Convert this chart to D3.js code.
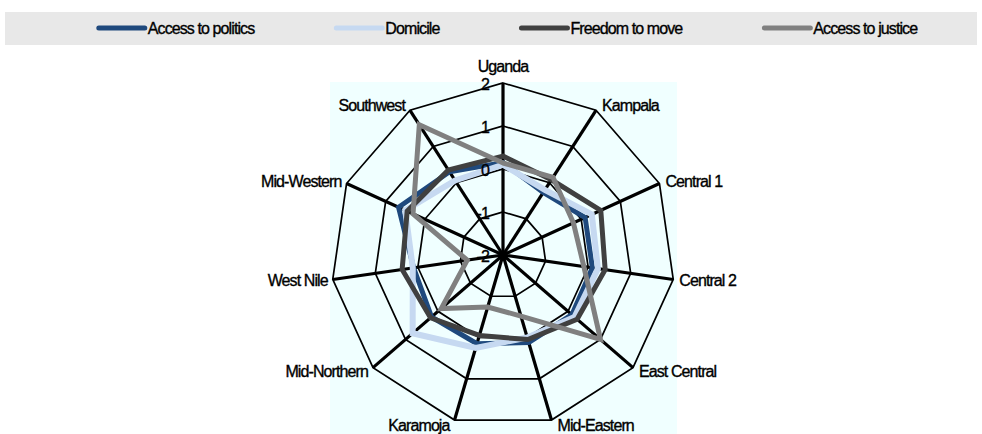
<!DOCTYPE html>
<html>
<head>
<meta charset="utf-8">
<script src="https://cdn.jsdelivr.net/npm/d3@7"></script>
<style>
  body { margin: 0; background: #fff; }
  text { font-family: "Liberation Sans", Arial, sans-serif; fill: #000; stroke: #000; stroke-width: 0.35px; letter-spacing: -0.9px; }
</style>
</head>
<body>
<div id="chart"></div>
<script>
var REGIONS = ['Uganda', 'Kampala', 'Central 1', 'Central 2', 'East Central', 'Mid-Eastern',
  'Karamoja', 'Mid-Northern', 'West Nile', 'Mid-Western', 'Southwest'];

var TICKS = [-2, -1, 0, 1, 2];

var SERIES = ['Access to politics', 'Domicile', 'Freedom to move', 'Access to justice'];
var COLORS = ['#1f497d', '#c6d9f1', '#404040', '#808080'];

var POLITICS = [0.15, -0.27, 0.1, 0.1, 0.12, 0.12, 0.15, 0.2, 0.1, 0.67, 0.3];
var DOMICILE = [0.1, -0.2, 0.27, 0.23, 0.2, 0.0, 0.25, 0.78, 0.12, 0.5, 0.06];
var FREEDOM = [0.3, 0.08, 0.5, 0.4, 0.28, 0.05, -0.05, 0.23, 0.37, 0.45, 0.35];
var JUSTICE = [0.14, 0.15, -0.2, -0.1, 1.0, -0.52, -0.74, -0.1, -1.16, 0.3, 1.6];

var VALUES = [POLITICS, DOMICILE, FREEDOM, JUSTICE];

var width = 982, height = 434;
var cx = 503, cy = 255, R = 172;

var svg = d3.select('#chart')
  .append('svg')
    .attr('width', width)
    .attr('height', height);

// legend band
svg.append('rect')
  .attr('x', 5).attr('y', 12)
  .attr('width', 972).attr('height', 33)
  .attr('fill', '#e8e8e8');

// plot area
svg.append('rect')
  .attr('x', cx - R - 1).attr('y', cy - R - 1)
  .attr('width', 2 * R + 3).attr('height', height - (cy - R - 1))
  .attr('fill', '#f0ffff');

var r = d3.scaleLinear().domain([-2, 2]).range([0, R]);
var angle = d3.scalePoint().domain(d3.range(REGIONS.length + 1)).range([0, 2 * Math.PI]);

function pt(i, v) {
  var a = angle(i);
  return [cx + r(v) * Math.sin(a), cy - r(v) * Math.cos(a)];
}

var g = svg.append('g');

// rings
TICKS.slice(1).forEach(function(t) {
  g.append('path')
    .attr('d', d3.line()(REGIONS.map(function(d, i) { return pt(i, t); })) + 'Z')
    .attr('fill', 'none')
    .attr('stroke', '#000')
    .attr('stroke-width', 1.7);
});

// spokes
REGIONS.forEach(function(d, i) {
  var p = pt(i, 2);
  g.append('line')
    .attr('x1', cx).attr('y1', cy)
    .attr('x2', p[0]).attr('y2', p[1])
    .attr('stroke', '#000')
    .attr('stroke-width', 3.2);
});

// series lines
var line = d3.line()
  .x(function(d, i) { return pt(i, d)[0]; })
  .y(function(d, i) { return pt(i, d)[1]; })
  .curve(d3.curveLinearClosed);

VALUES.forEach(function(vals, s) {
  svg.append('path')
    .datum(vals)
    .attr('d', line)
    .attr('fill', 'none')
    .attr('stroke', COLORS[s])
    .attr('stroke-width', s == 1 ? 6 : 5)
    .attr('stroke-linejoin', 'miter');
});

// tick labels
TICKS.forEach(function(t) {
  svg.append('text')
    .attr('x', cx - 14)
    .attr('y', cy - r(t) + 1)
    .attr('dy', '0.35em')
    .attr('text-anchor', 'end')
    .style('font-size', '16px')
    .text(t);
});

// category labels
REGIONS.forEach(function(d, i) {
  var a = angle(i), s = Math.sin(a), c = Math.cos(a);
  var p = pt(i, 2);
  var anchor = Math.abs(s) < 0.1 ? 'middle' : (s > 0 ? 'start' : 'end');
  var x = p[0] + (anchor == 'middle' ? 0 : (s > 0 ? 6 : -5));
  var y = anchor == 'middle' ? p[1] - 17 : p[1] - c * 6;
  svg.append('text')
    .attr('x', x).attr('y', y)
    .attr('dy', '0.35em')
    .attr('text-anchor', anchor)
    .style('font-size', '16px')
    .text(d);
});

// legend
var legend = svg.append('g');
var lx = 0;
SERIES.forEach(function(name, s) {
  var item = legend.append('g').attr('transform', 'translate(' + lx + ',0)');
  item.append('line')
    .attr('x1', 2).attr('x2', 48)
    .attr('y1', 28).attr('y2', 28)
    .attr('stroke', COLORS[s])
    .attr('stroke-width', 5)
    .attr('stroke-linecap', 'round');
  var t = item.append('text')
    .attr('x', 51).attr('y', 28)
    .attr('dy', '0.35em')
    .style('font-size', '16px')
    .text(name);
  lx += 51 + t.node().getComputedTextLength() + 80;
});
var lw = lx - 80;
legend.attr('transform', 'translate(' + (507 - lw / 2) + ',0)');
</script>
</body>
</html>
